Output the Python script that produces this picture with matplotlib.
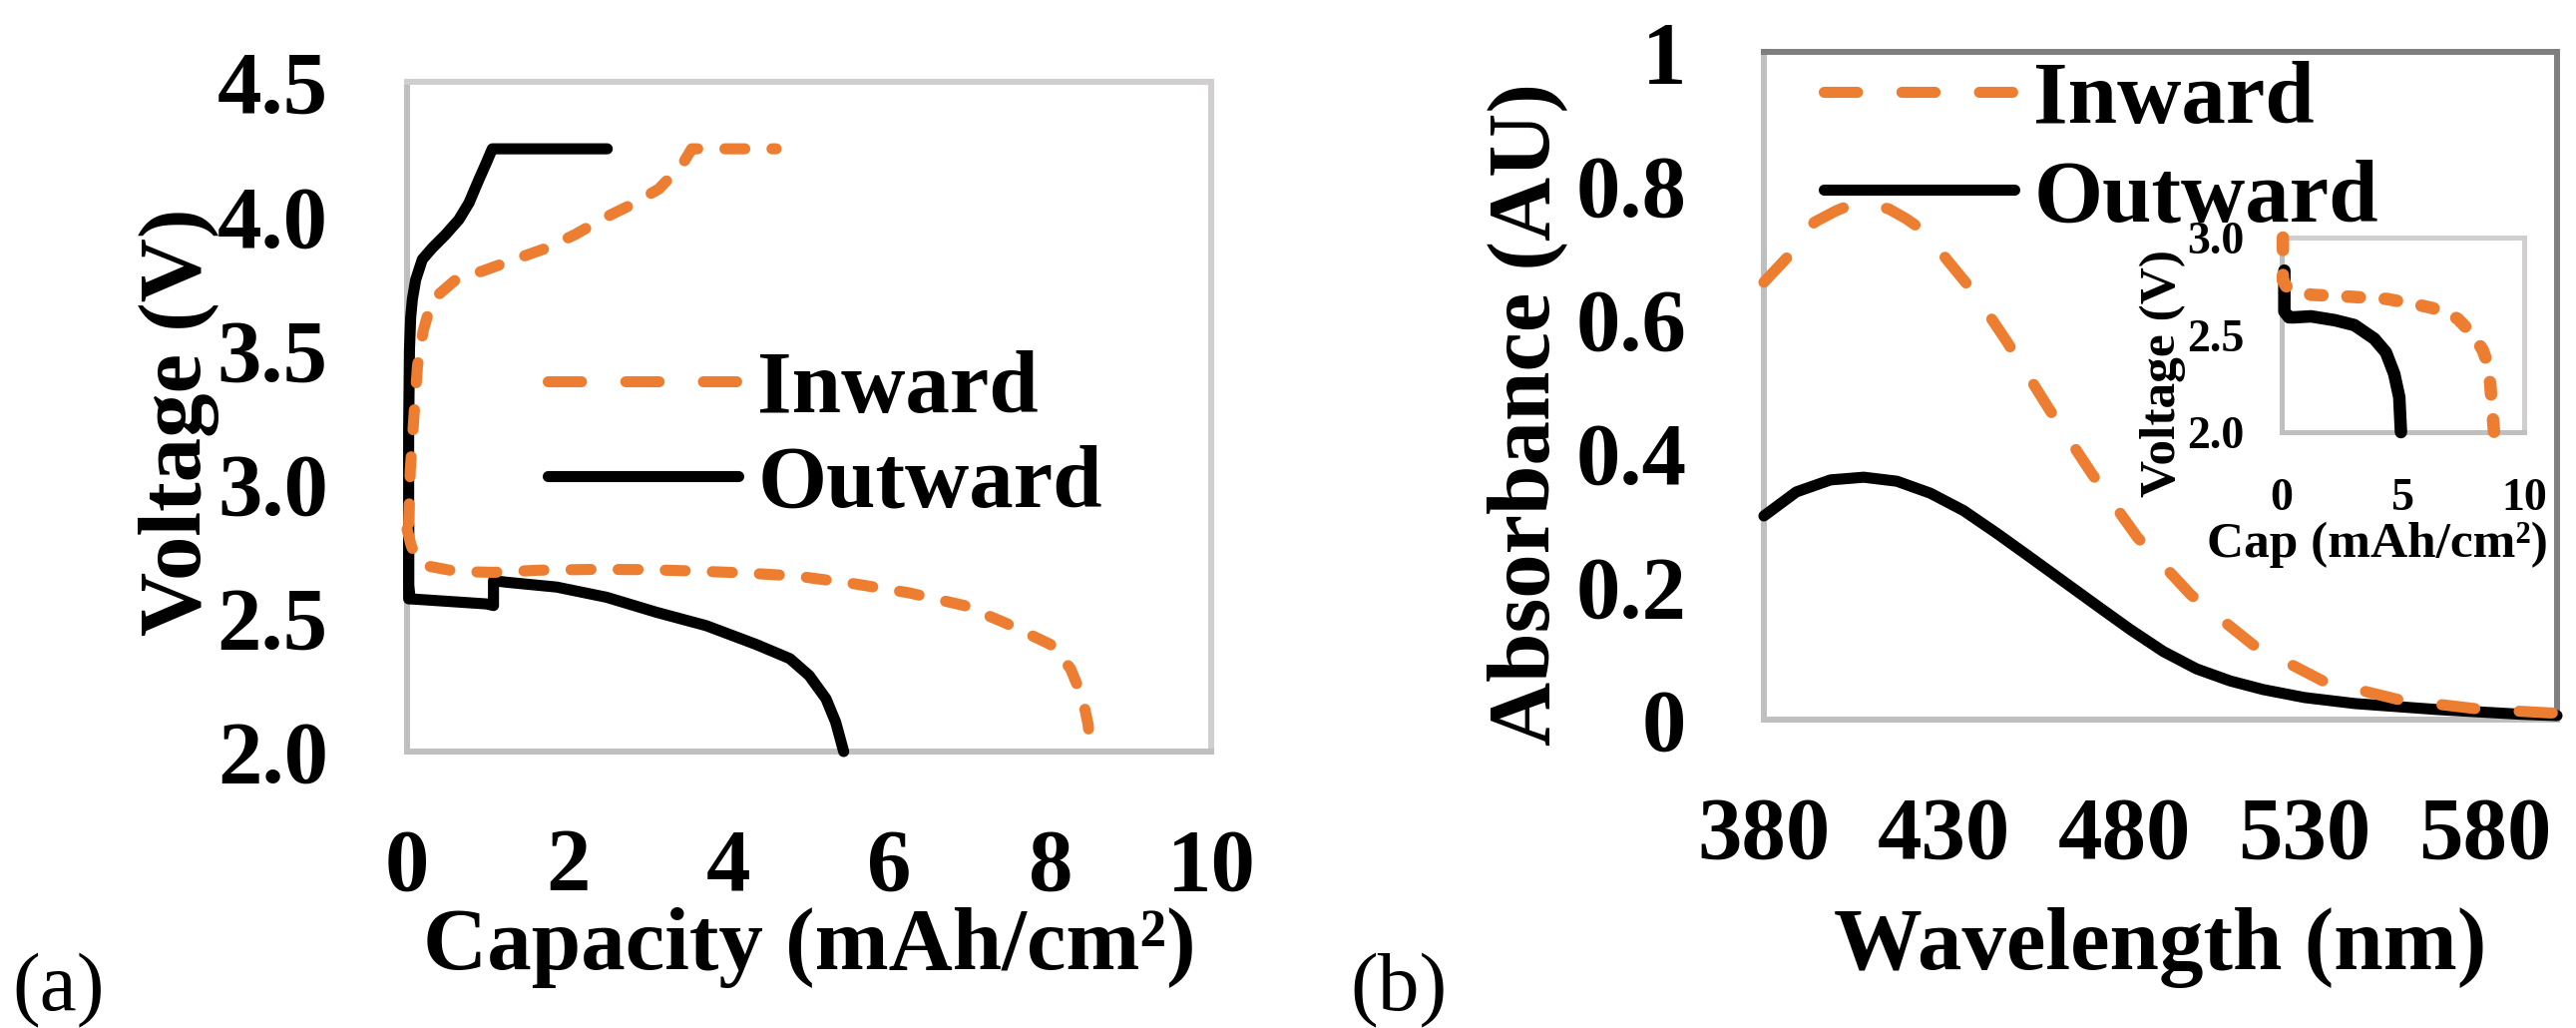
import matplotlib
matplotlib.use("Agg")
import matplotlib.pyplot as plt  # noqa: E402
from matplotlib.lines import Line2D  # noqa: E402

ORANGE = "#ED7D31"
BLACK = "#000000"
GRID_DARK = "#BFBFBF"
GRID_LIGHT = "#D0CECE"
FRAME_B = "#7F7F7F"

# ---- panel (a): charge / discharge, capacity (mAh/cm2) vs voltage (V) ----
in_chg_cap = [0.02, 0.04, 0.09, 0.13, 0.2, 0.31, 0.6, 0.95, 1.41, 1.74, 2.09,
              2.44, 2.78, 3.13, 3.42, 3.54, 4.0, 4.59]
in_chg_v = [2.85, 3.05, 3.27, 3.44, 3.57, 3.685, 3.76, 3.795, 3.845, 3.88, 3.93,
            3.99, 4.04, 4.10, 4.19, 4.25, 4.25, 4.25]
in_dis_cap = [0.0, 0.05, 0.12, 0.23, 0.62, 1.08, 1.64, 2.35, 2.99, 3.56, 4.19,
              4.85, 5.57, 6.25, 6.93, 7.44, 8.0, 8.25, 8.4, 8.47, 8.5]
in_dis_v = [2.83, 2.77, 2.72, 2.694, 2.672, 2.669, 2.677, 2.68, 2.679, 2.674,
            2.667, 2.655, 2.626, 2.592, 2.545, 2.48, 2.40, 2.31, 2.20, 2.10, 2.0]
out_chg_cap = [0.02, 0.02, 0.03, 0.045, 0.066, 0.108, 0.19, 0.314, 0.48, 0.645,
               0.77, 0.893, 0.976, 1.06, 2.49]
out_chg_v = [2.57, 3.20, 3.50, 3.62, 3.688, 3.762, 3.837, 3.88, 3.93, 3.986,
             4.048, 4.135, 4.191, 4.25, 4.25]
out_dis_cap = [0.02, 0.02, 0.04, 0.99, 1.075, 1.075, 1.24, 1.86, 2.48, 3.10, 3.72,
               4.34, 4.76, 5.0, 5.21, 5.33, 5.43]
out_dis_v = [2.85, 2.62, 2.57, 2.551, 2.545, 2.638, 2.632, 2.614, 2.576, 2.52,
             2.47, 2.40, 2.347, 2.284, 2.197, 2.11, 2.0]
a_xticks = [0, 2, 4, 6, 8, 10]
a_yticks = [2.0, 2.5, 3.0, 3.5, 4.0, 4.5]

# ---- panel (b): absorbance spectra ----
wl_in = [380, 388, 394, 400, 404.5, 409.5, 414.6, 419.5, 424.3, 431.2, 438.2,
         447.4, 459, 471, 483.6, 498.4, 515.7, 535, 556, 578, 598, 600]
abs_in = [0.655, 0.701, 0.745, 0.762, 0.772, 0.771, 0.765, 0.75, 0.732, 0.686,
          0.640, 0.566, 0.466, 0.368, 0.273, 0.187, 0.112, 0.058, 0.030, 0.016,
          0.010, 0.010]
wl_out = [380, 389, 398.5, 407.7, 416.9, 426.2, 435.4, 444.6, 453.9, 463.1, 472.3,
          481.6, 490.8, 500, 509.3, 518.5, 530, 544, 567, 590, 600]
abs_out = [0.305, 0.341, 0.359, 0.363, 0.357, 0.339, 0.313, 0.279, 0.243, 0.207,
           0.171, 0.135, 0.102, 0.076, 0.058, 0.045, 0.033, 0.024, 0.015, 0.008,
           0.006]
b_xticks = [380, 430, 480, 530, 580]
b_yticks = [0, 0.2, 0.4, 0.6, 0.8, 1.0]
b_yticklabels = ["0", "0.2", "0.4", "0.6", "0.8", "1"]

# ---- inset: discharge ----
ins_in_cap = [0.05, 0.05, 0.18, 1.21, 2.68, 4.37, 5.93, 6.8, 7.28, 7.9, 8.3,
              8.46, 8.6, 8.72, 8.76]
ins_in_v = [3.0, 2.78, 2.75, 2.706, 2.697, 2.684, 2.646, 2.62, 2.58, 2.50, 2.42,
            2.364, 2.25, 2.06, 2.0]
ins_out_cap = [0.11, 0.11, 0.3, 0.52, 1.21, 2.2, 3.0, 3.82, 4.3, 4.64, 4.85, 4.92]
ins_out_v = [2.83, 2.62, 2.59, 2.59, 2.595, 2.575, 2.55, 2.48, 2.41, 2.30, 2.18, 2.0]
ins_xticks = [0, 5, 10]
ins_yticks = [2.0, 2.5, 3.0]

plt.rcParams.update({
    "font.family": ["Liberation Serif", "DejaVu Serif"],
    "font.weight": "bold",
    "axes.labelweight": "bold",
})

W, H = 2582, 1030
fig = plt.figure(figsize=(W / 100, H / 100), dpi=100)

LW = 8
solid = dict(color=BLACK, lw=LW, solid_capstyle="round", solid_joinstyle="round",
             clip_on=False, zorder=3)


def dashed(pattern, lw=LW):
    return dict(color=ORANGE, lw=lw, ls=(0, pattern), dash_capstyle="round",
                solid_joinstyle="round", clip_on=False, zorder=4)


def frame(ax, lower, upper, width=4.3):
    for side in ("left", "bottom"):
        ax.spines[side].set_color(lower)
        ax.spines[side].set_linewidth(width)
    for side in ("top", "right"):
        ax.spines[side].set_color(upper)
        ax.spines[side].set_linewidth(width)
    for s in ax.spines.values():
        s.set_zorder(1)


def legend(ax, x, y, spacing):
    handles = [Line2D([], [], **dashed((3, 4))), Line2D([], [], **solid)]
    ax.legend(handles, ["Inward", "Outward"], loc="upper left",
              bbox_to_anchor=(x, y), frameon=False, fontsize=64,
              handlelength=2.15, handletextpad=0.22, labelspacing=spacing,
              borderpad=0, borderaxespad=0)


# ===== panel (a) =====
ax1 = fig.add_axes([408 / W, 1 - 753 / H, 806 / W, 671 / H])
ax1.plot(out_chg_cap, out_chg_v, **solid)
ax1.plot(out_dis_cap, out_dis_v, **solid)
ax1.plot(in_chg_cap, in_chg_v, **dashed((1.8, 2.45)))
ax1.plot(in_dis_cap, in_dis_v, **dashed((1.8, 2.45)))
ax1.set_xlim(0, 10)
ax1.set_ylim(2.0, 4.5)
ax1.set_xticks(a_xticks)
ax1.set_yticks(a_yticks)
ax1.set_yticklabels([f"{v:.1f}" for v in a_yticks])
ax1.tick_params(length=0, labelsize=64)
ax1.tick_params(axis="x", pad=55)
ax1.tick_params(axis="y", pad=57)
frame(ax1, GRID_DARK, GRID_LIGHT)
ax1.set_xlabel("Capacity (mAh/cm²)", fontsize=64, va="baseline")
ax1.xaxis.set_label_coords(0.5, -0.325)
ax1.set_ylabel("Voltage (V)", fontsize=64, va="center")
ax1.yaxis.set_label_coords(-0.283, 0.492)
legend(ax1, (548.5 - 408) / 806, (753 - 351) / 671, 0.15)

# ===== panel (b) =====
ax2 = fig.add_axes([1768 / W, 1 - 721 / H, 795 / W, 669 / H])
ax2.plot(wl_out, abs_out, **solid)
ax2.plot(wl_in, abs_in, **dashed((3, 4)))
ax2.set_xlim(380, 600)
ax2.set_ylim(0, 1)
ax2.set_xticks(b_xticks)
ax2.set_yticks(b_yticks)
ax2.set_yticklabels(b_yticklabels)
ax2.tick_params(length=0, labelsize=64)
ax2.tick_params(axis="x", pad=55)
ax2.tick_params(axis="y", pad=56)
frame(ax2, GRID_DARK, FRAME_B)
ax2.set_xlabel("Wavelength (nm)", fontsize=64, va="baseline")
ax2.xaxis.set_label_coords(0.5, -0.374)
ax2.set_ylabel("Absorbance (AU)", fontsize=64, va="center")
ax2.yaxis.set_label_coords(-0.299, 0.457)
legend(ax2, (1827.5 - 1768) / 795, (721 - 61) / 669, 0.19)

# ===== inset =====
ax3 = fig.add_axes([2287 / W, 1 - 433 / H, 243 / W, 195 / H])
ax3.plot(ins_out_cap, ins_out_v, **dict(solid, lw=9))
ax3.plot(ins_in_cap, ins_in_v, **dashed((1, 2), lw=9))
ax3.set_xlim(0, 10)
ax3.set_ylim(2.0, 3.0)
ax3.set_xticks(ins_xticks)
ax3.set_yticks(ins_yticks)
ax3.set_yticklabels([f"{v:.1f}" for v in ins_yticks])
ax3.tick_params(length=0, labelsize=33)
ax3.tick_params(axis="x", pad=33)
ax3.tick_params(axis="y", pad=27)
frame(ax3, GRID_DARK, GRID_LIGHT, width=3.6)
ax3.set_xlabel("Cap (mAh/cm²)", fontsize=37, va="baseline")
ax3.xaxis.set_label_coords(0.395, -0.641)
ax3.set_ylabel("Voltage (V)", fontsize=37, va="center")
ax3.yaxis.set_label_coords(-0.49, 0.30)

# panel tags
fig.text(12 / W, 1 - 1012 / H, "(a)", fontsize=60, fontweight="normal",
         ha="left", va="baseline")
fig.text(1353 / W, 1 - 1012 / H, "(b)", fontsize=60, fontweight="normal",
         ha="left", va="baseline")

fig.savefig("out.png", dpi=100)
